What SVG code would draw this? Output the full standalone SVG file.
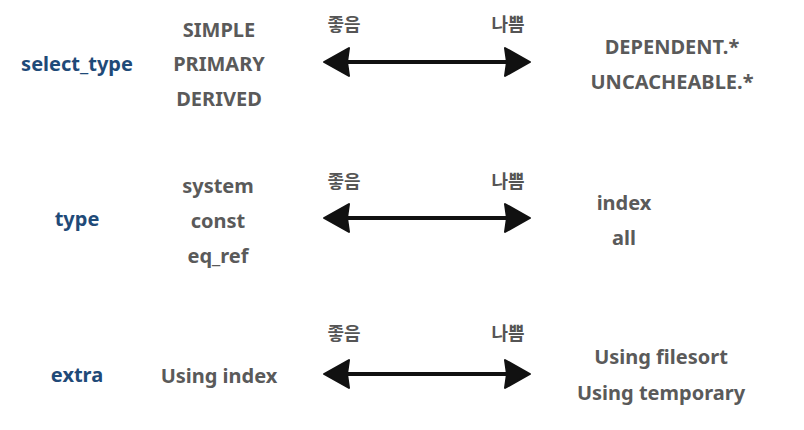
<svg xmlns="http://www.w3.org/2000/svg" width="804" height="430" viewBox="0 0 804 430">
<style>
.lbl{font-family:"Noto Sans","Liberation Sans",sans-serif;font-weight:bold;font-size:20px;fill:#1f4a78;text-anchor:middle}
.itm{font-family:"Noto Sans","Liberation Sans",sans-serif;font-weight:bold;font-size:20px;fill:#5a5a5a;text-anchor:middle}
.kr{font-family:"Noto Sans CJK KR",sans-serif;font-weight:bold;font-size:18px;fill:#555;text-anchor:middle}
.shaft{stroke:#111;stroke-width:4;fill:none}
.head{fill:#111;stroke:#111;stroke-width:2;stroke-linejoin:round}
</style>
<rect width="804" height="430" fill="#fff"/>
<defs>
<g id="arrow">
<line class="shaft" x1="340" y1="0" x2="515" y2="0"/>
<path class="head" d="M324,0 L349,-14 L347,0 L349,14 Z"/>
<path class="head" d="M530,0 L505,-14 L507,0 L505,14 Z"/>
</g>
</defs>
<g id="connectors">
<use href="#arrow" y="62"/>
<use href="#arrow" y="218"/>
<use href="#arrow" y="374"/>
</g>
<g id="row-select_type">
<text class="lbl" x="77" y="71">select_type</text>
<text class="itm" x="219" y="37">SIMPLE</text>
<text class="itm" x="219" y="71">PRIMARY</text>
<text class="itm" x="219" y="106">DERIVED</text>
<text class="kr" x="344" y="31">좋음</text>
<text class="kr" x="508" y="31">나쁨</text>
<text class="itm" x="672" y="54">DEPENDENT.*</text>
<text class="itm" x="672" y="89">UNCACHEABLE.*</text>
</g>
<g id="row-type">
<text class="lbl" x="77" y="226">type</text>
<text class="itm" x="218" y="193">system</text>
<text class="itm" x="218" y="228">const</text>
<text class="itm" x="218" y="263">eq_ref</text>
<text class="kr" x="344" y="188">좋음</text>
<text class="kr" x="508" y="188">나쁨</text>
<text class="itm" x="624" y="210">index</text>
<text class="itm" x="624" y="245">all</text>
</g>
<g id="row-extra">
<text class="lbl" x="77" y="382">extra</text>
<text class="itm" x="219" y="383">Using index</text>
<text class="kr" x="344" y="340">좋음</text>
<text class="kr" x="508" y="340">나쁨</text>
<text class="itm" x="661" y="364">Using filesort</text>
<text class="itm" x="661" y="400">Using temporary</text>
</g>
</svg>
